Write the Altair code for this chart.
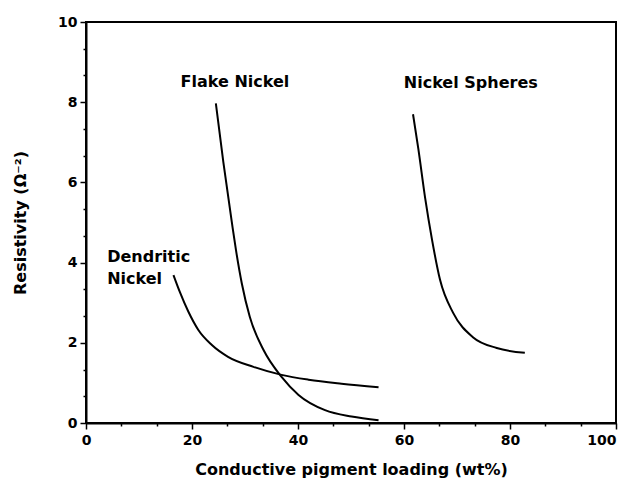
import altair as alt
import pandas as pd

# Flake Nickel curve
flake_x = [24.5, 25.9, 27.5, 28.3, 29.4, 30.9, 33.5, 36.9, 40.1, 45.1, 50.1, 55.2]
flake_y = [7.97, 6.52, 5.02, 4.31, 3.48, 2.65, 1.82, 1.15, 0.70, 0.32, 0.16, 0.07]

# Dendritic Nickel curve
dend_x = [16.5, 17.7, 19.3, 21.2, 23.7, 26.8, 31.6, 36.9, 42.0, 48.2, 55.2]
dend_y = [3.69, 3.27, 2.78, 2.32, 1.95, 1.65, 1.40, 1.20, 1.08, 0.98, 0.89]

# Nickel Spheres curve
sph_x = [61.7, 62.7, 64.0, 65.3, 66.8, 69.3, 73.0, 77.5, 82.8]
sph_y = [7.7, 6.84, 5.60, 4.56, 3.57, 2.74, 2.14, 1.87, 1.75]

# Curve annotations
label_text = ["Flake Nickel", "Nickel Spheres", "Dendritic", "Nickel"]
label_x = [28.1, 72.6, 4.0, 4.0]
label_y = [8.5, 8.48, 4.14, 3.59]
label_align = ["center", "center", "left", "left"]

x_ticks = [i * 20 / 3 for i in range(16)]
y_ticks = [i * 2 / 3 for i in range(16)]

rows = []
for name, xs, ys in [("Flake Nickel", flake_x, flake_y),
                     ("Dendritic Nickel", dend_x, dend_y),
                     ("Nickel Spheres", sph_x, sph_y)]:
    for i, (a, b) in enumerate(zip(xs, ys)):
        rows.append({"series": name, "x": a, "y": b, "order": i})
df = pd.DataFrame(rows)

lab = pd.DataFrame({"text": label_text, "x": label_x, "y": label_y, "align": label_align})

FONT = "DejaVu Sans"

xscale = alt.Scale(domain=[0, 100], nice=False, zero=False)
yscale = alt.Scale(domain=[0, 10], nice=False, zero=False)

xaxis = alt.Axis(
    values=x_ticks,
    labelExpr="abs(datum.value - round(datum.value/20)*20) < 0.01 ? format(round(datum.value), 'd') : ''",
    tickSize={"condition": {"test": "abs(datum.value - round(datum.value/20)*20) < 0.01", "value": 6}, "value": 3},
    labelAlign={"condition": {"test": "datum.value > 99", "value": "right"}, "value": "center"},
    grid=False, domainColor="black", domainWidth=2, tickColor="black", tickWidth=1.5,
    labelFont=FONT, labelFontSize=14, labelFontWeight="bold", labelColor="black",
    labelPadding=4, labelOverlap=False, labelFlush=False,
    title="Conductive pigment loading (wt%)", titleFont=FONT, titleFontSize=16,
    titleFontWeight="bold", titleColor="black", titlePadding=14,
)
yaxis = alt.Axis(
    values=y_ticks,
    labelExpr="abs(datum.value - round(datum.value/2)*2) < 0.01 ? format(round(datum.value), 'd') : ''",
    tickSize={"condition": {"test": "abs(datum.value - round(datum.value/2)*2) < 0.01", "value": 6}, "value": 3},
    grid=False, domainColor="black", domainWidth=2, tickColor="black", tickWidth=1.5,
    labelFont=FONT, labelFontSize=14, labelFontWeight="bold", labelColor="black",
    labelPadding=3, labelOverlap=False, labelFlush=False,
    title="Resistivity (Ω⁻²)", titleFont=FONT, titleFontSize=16,
    titleFontWeight="bold", titleColor="black", titlePadding=29,
)

lines = alt.Chart(df).mark_line(color="black", strokeWidth=2, interpolate="monotone").encode(
    x=alt.X("x:Q", scale=xscale, axis=xaxis),
    y=alt.Y("y:Q", scale=yscale, axis=yaxis),
    detail="series:N",
    order="order:Q",
)

texts_c = alt.Chart(lab[lab["align"] == "center"]).mark_text(
    font=FONT, fontSize=16, fontWeight="bold", color="black", align="center", baseline="middle"
).encode(x=alt.X("x:Q", scale=xscale, axis=xaxis), y=alt.Y("y:Q", scale=yscale, axis=yaxis), text="text:N")

texts_l = alt.Chart(lab[lab["align"] == "left"]).mark_text(
    font=FONT, fontSize=16, fontWeight="bold", color="black", align="left", baseline="middle"
).encode(x=alt.X("x:Q", scale=xscale, axis=xaxis), y=alt.Y("y:Q", scale=yscale, axis=yaxis), text="text:N")

chart = alt.layer(lines, texts_c, texts_l).properties(
    width=530, height=401,
    autosize=alt.AutoSizeParams(type="none"),
    padding={"left": 78, "top": 14, "right": 4, "bottom": 56},
    background="white",
).configure_view(stroke="black", strokeWidth=2).configure_axis(labelOverlap=False)

chart.save("out.html", embed_options={"renderer": "svg", "actions": False})
